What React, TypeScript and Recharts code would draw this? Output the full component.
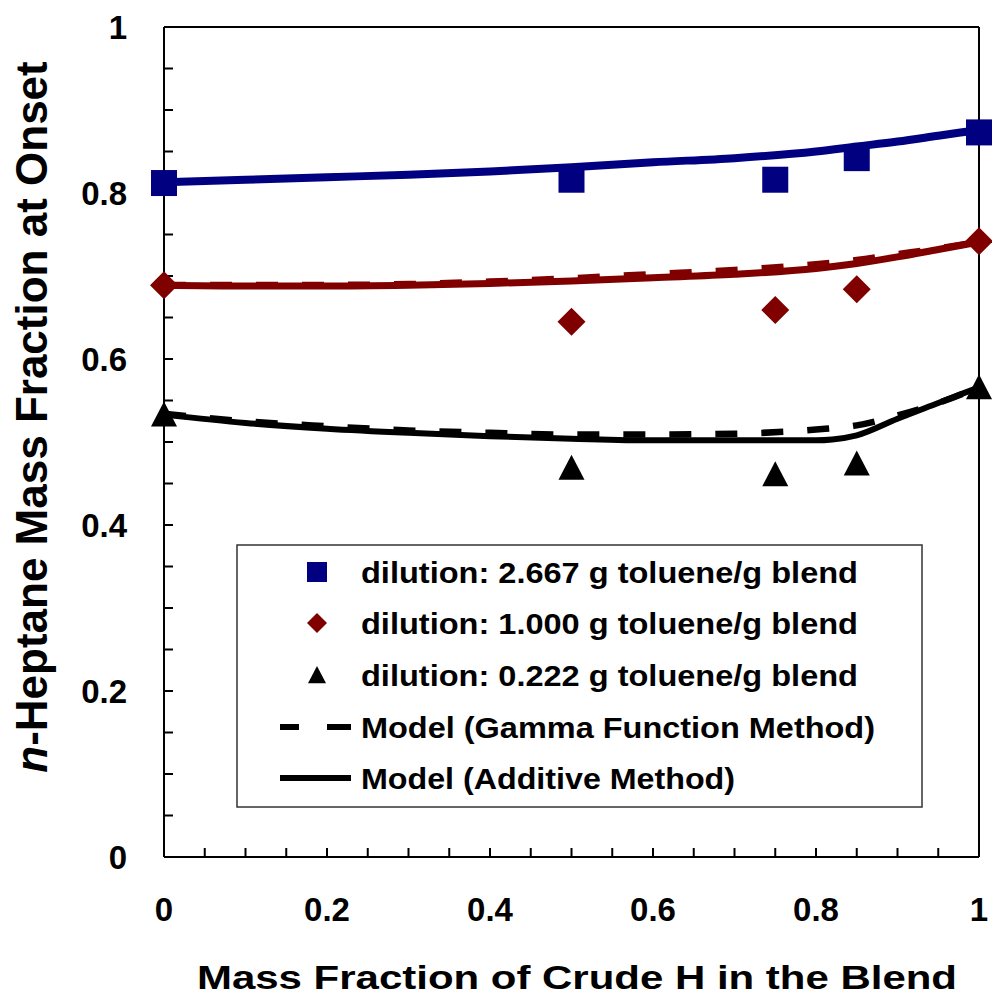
import { ComposedChart, Line, Scatter, XAxis, YAxis } from 'recharts';

document.body.style.margin = '0';
document.body.style.overflow = 'hidden';

const FONT = '"Liberation Sans", Arial, Helvetica, sans-serif';
const NAVY = '#000080';
const MAROON = '#800000';
const INK = '#000';

// axis ticks: every 0.05, labelled every 0.2
const axisTicks = [0, 0.05, 0.1, 0.15, 0.2, 0.25, 0.3, 0.35, 0.4, 0.45, 0.5, 0.55, 0.6, 0.65, 0.7, 0.75, 0.8, 0.85, 0.9, 0.95, 1];
const majorValues = [0, 0.2, 0.4, 0.6, 0.8, 1];
const majorLabels = ['0', '0.2', '0.4', '0.6', '0.8', '1'];

// measured onset points
const blendFraction = [0, 0.5, 0.75, 0.85, 1];
const onsetDil2667 = [0.812, 0.816, 0.816, 0.842, 0.873];
const onsetDil1000 = [0.689, 0.645, 0.659, 0.684, 0.742];
const onsetDil0222 = [0.533, 0.469, 0.461, 0.474, 0.566];

// model curves
const modelX = [0, 0.1, 0.2, 0.3, 0.4, 0.5, 0.6, 0.7, 0.8, 0.85, 0.9, 0.95, 1];
const additive2667 = [0.813, 0.816, 0.819, 0.822, 0.826, 0.831, 0.837, 0.842, 0.85, 0.856, 0.862, 0.869, 0.876];
const additive1000 = [0.689, 0.688, 0.688, 0.689, 0.691, 0.694, 0.698, 0.702, 0.709, 0.715, 0.723, 0.732, 0.741];
const gamma1000 = [0.689, 0.689, 0.689, 0.69, 0.693, 0.697, 0.702, 0.707, 0.714, 0.719, 0.726, 0.733, 0.741];
const gamma0222 = [0.534, 0.525, 0.519, 0.514, 0.511, 0.509, 0.509, 0.51, 0.515, 0.52, 0.532, 0.547, 0.566];
const additiveLowX = [0, 0.1, 0.2, 0.3, 0.4, 0.5, 0.6, 0.7, 0.8, 0.82, 0.85, 0.9, 0.95, 1];
const additive0222 = [0.533, 0.523, 0.516, 0.511, 0.507, 0.504, 0.502, 0.502, 0.502, 0.503, 0.508, 0.528, 0.547, 0.566];

const legendLabels = [
  'dilution: 2.667 g toluene/g blend',
  'dilution: 1.000 g toluene/g blend',
  'dilution: 0.222 g toluene/g blend',
  'Model (Gamma Function Method)',
  'Model (Additive Method)',
];

const pts = (xs: number[], ys: number[]) => xs.map((x, i) => ({ x, y: ys[i] }));

const tickText = (v: number) => {
  const i = majorValues.indexOf(v);
  return i >= 0 ? majorLabels[i] : '';
};

// marker glyphs; half = half of the side / half-diagonal
const drawSquare = (cx: number, cy: number, half: number) => (
  <rect x={cx - half} y={cy - half} width={half * 2} height={half * 2} fill={NAVY} />
);
const drawDiamond = (cx: number, cy: number, half: number) => (
  <polygon points={`${cx},${cy - half} ${cx + half},${cy} ${cx},${cy + half} ${cx - half},${cy}`} fill={MAROON} />
);
const drawTriangle = (cx: number, cy: number, half: number) => (
  <polygon points={`${cx},${cy - half} ${cx + half},${cy + half * 0.92} ${cx - half},${cy + half * 0.92}`} fill={INK} />
);

const SquareShape = (p: any) => drawSquare(p.cx, p.cy, 13);
const DiamondShape = (p: any) => drawDiamond(p.cx, p.cy, 14);
const TriangleShape = (p: any) => drawTriangle(p.cx, p.cy, 13);

const tickStyle = { fill: INK, fontSize: 33, fontWeight: 700, fontFamily: FONT };
const frame = { stroke: INK, strokeWidth: 2 };

const YTitle = () => (
  <text
    transform="translate(47, 417) rotate(-90)"
    textAnchor="middle"
    fontFamily={FONT}
    fontWeight={700}
    fontSize={44}
    fill={INK}
  >
    <tspan fontStyle="italic">n</tspan>
    <tspan>-Heptane Mass Fraction at Onset</tspan>
  </text>
);

const XTitle = () => (
  <text
    x={577}
    y={989}
    textAnchor="middle"
    fontFamily={FONT}
    fontWeight={700}
    fontSize={34}
    textLength={760}
    lengthAdjust="spacingAndGlyphs"
    fill={INK}
  >
    Mass Fraction of Crude H in the Blend
  </text>
);

function LegendBox() {
  const rowY = [572, 623, 675, 727, 778];
  const textLen = [497, 497, 497, 514, 374];
  return (
    <svg width={992} height={996} style={{ position: 'absolute', left: 0, top: 0, pointerEvents: 'none' }}>
      <rect x={237} y={545} width={685} height={262} fill="#fff" stroke="#333" strokeWidth={1.5} />
      {drawSquare(317, rowY[0], 10)}
      {drawDiamond(317, rowY[1], 10)}
      {drawTriangle(317, rowY[2], 9)}
      <line x1={280} x2={351} y1={rowY[3]} y2={rowY[3]} stroke={INK} strokeWidth={6} strokeDasharray="19 28 24" />
      <line x1={280} x2={351} y1={rowY[4]} y2={rowY[4]} stroke={INK} strokeWidth={6} />
      {legendLabels.map((t, i) => (
        <text
          key={t}
          x={361}
          y={rowY[i] + 11}
          fontFamily={FONT}
          fontWeight={700}
          fontSize={30}
          textLength={textLen[i]}
          lengthAdjust="spacingAndGlyphs"
          fill={INK}
        >
          {t}
        </text>
      ))}
    </svg>
  );
}

export default function App() {
  return (
    <div style={{ position: 'relative', width: 992, height: 996, background: '#fff' }}>
      <ComposedChart width={992} height={996} margin={{ top: 26, right: 12, bottom: 0, left: 0 }}>
        <XAxis
          dataKey="x"
          type="number"
          domain={[0, 1]}
          ticks={axisTicks}
          interval={0}
          height={139}
          tickSize={-9}
          tickMargin={50}
          tickFormatter={tickText}
          tick={tickStyle}
          axisLine={frame}
          tickLine={frame}
          label={XTitle}
        />
        <XAxis
          xAxisId="top"
          orientation="top"
          dataKey="x"
          type="number"
          domain={[0, 1]}
          ticks={axisTicks}
          interval={0}
          height={1}
          tickSize={-9}
          tickFormatter={() => ''}
          axisLine={frame}
          tickLine={frame}
        />
        <YAxis
          type="number"
          domain={[0, 1]}
          ticks={axisTicks}
          interval={0}
          width={164}
          tickSize={-9}
          tickMargin={46}
          tickFormatter={tickText}
          tick={tickStyle}
          axisLine={frame}
          tickLine={frame}
          label={YTitle}
        />
        <YAxis
          yAxisId="right"
          orientation="right"
          type="number"
          domain={[0, 1]}
          ticks={axisTicks}
          interval={0}
          width={1}
          tickSize={-9}
          tickFormatter={() => ''}
          axisLine={frame}
          tickLine={frame}
        />

        <Line data={pts(modelX, additive2667)} dataKey="y" type="monotone" stroke={NAVY} strokeWidth={8} dot={false} activeDot={false} isAnimationActive={false} />
        <Line data={pts(modelX, gamma1000)} dataKey="y" type="monotone" stroke={MAROON} strokeWidth={7} strokeDasharray="22 24" dot={false} activeDot={false} isAnimationActive={false} />
        <Line data={pts(modelX, additive1000)} dataKey="y" type="monotone" stroke={MAROON} strokeWidth={7} dot={false} activeDot={false} isAnimationActive={false} />
        <Line data={pts(modelX, gamma0222)} dataKey="y" type="monotone" stroke={INK} strokeWidth={6.5} strokeDasharray="22 24" dot={false} activeDot={false} isAnimationActive={false} />
        <Line data={pts(additiveLowX, additive0222)} dataKey="y" type="monotone" stroke={INK} strokeWidth={6} dot={false} activeDot={false} isAnimationActive={false} />

        <Scatter data={pts(blendFraction, onsetDil2667)} dataKey="y" shape={SquareShape} isAnimationActive={false} />
        <Scatter data={pts(blendFraction, onsetDil1000)} dataKey="y" shape={DiamondShape} isAnimationActive={false} />
        <Scatter data={pts(blendFraction, onsetDil0222)} dataKey="y" shape={TriangleShape} isAnimationActive={false} />
      </ComposedChart>
      <LegendBox />
    </div>
  );
}
